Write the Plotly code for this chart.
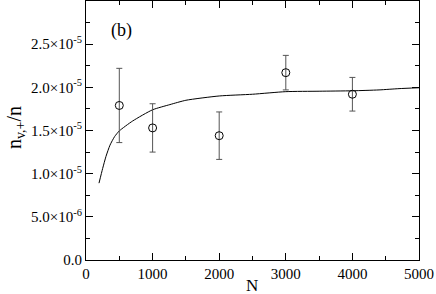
import plotly.graph_objects as go

# Data
pts_N = [500, 1000, 2000, 3000, 4000]
pts_y = [1.79e-5, 1.53e-5, 1.44e-5, 2.17e-5, 1.92e-5]
pts_err = [4.3e-6, 2.8e-6, 2.75e-6, 2.0e-6, 1.95e-6]

curve_N = [195, 250, 300, 360, 430, 500, 700, 1000, 1260, 1500, 2000, 2500,
           3000, 3500, 4000, 4400, 4700, 5000]
curve_y = [8.9e-6, 10.6e-6, 12.0e-6, 13.3e-6, 14.3e-6, 14.95e-6, 16.1e-6, 17.4e-6,
           18.0e-6, 18.5e-6, 19.0e-6, 19.2e-6, 19.5e-6, 19.55e-6, 19.6e-6, 19.7e-6,
           19.85e-6, 19.95e-6]

x_ticks = [0, 1000, 2000, 3000, 4000, 5000]
y_ticks = [0, 5e-6, 1e-5, 1.5e-5, 2e-5, 2.5e-5]
y_ticktext = ["0.0", "5.0×10<sup>-6</sup>", "1.0×10<sup>-5</sup>", "1.5×10<sup>-5</sup>",
              "2.0×10<sup>-5</sup>", "2.5×10<sup>-5</sup>"]

FONT = "Liberation Serif"

fig = go.Figure()
fig.add_trace(go.Scatter(x=curve_N, y=curve_y, mode="lines",
                         line=dict(color="black", width=1, shape="spline", smoothing=0.6),
                         showlegend=False))
fig.add_trace(go.Scatter(x=pts_N, y=pts_y, mode="markers",
                         marker=dict(symbol="circle-open", size=8, color="black",
                                     line=dict(width=1, color="black")),
                         error_y=dict(type="data", array=pts_err, visible=True,
                                      color="#555555", thickness=1, width=3),
                         showlegend=False))

axis_common = dict(showline=True, linecolor="black", linewidth=1, mirror="allticks",
                   ticks="inside", ticklen=7, tickcolor="black", tickwidth=1,
                   showgrid=False, zeroline=False, automargin=False,
                   tickfont=dict(family=FONT, size=15, color="black"))

fig.update_xaxes(range=[0, 5000], tickvals=x_ticks,
                 minor=dict(dtick=500, ticks="inside", ticklen=4, tickcolor="black", showgrid=False),
                 **axis_common)
fig.update_yaxes(range=[0, 3.0e-5], tickvals=y_ticks, ticktext=y_ticktext,
                 minor=dict(dtick=2.5e-6, ticks="inside", ticklen=4, tickcolor="black", showgrid=False),
                 **axis_common)

fig.add_annotation(x=0.108, y=0.888, xref="paper", yref="paper", text="(b)",
                   showarrow=False, xanchor="center", yanchor="middle",
                   font=dict(family=FONT, size=18, color="black"))
fig.add_annotation(x=0.497, y=-0.098, xref="paper", yref="paper", text="N",
                   showarrow=False, xanchor="center", yanchor="middle",
                   font=dict(family=FONT, size=17, color="black"))
fig.add_annotation(x=-0.21, y=0.51, xref="paper", yref="paper",
                   text="n<sub>v,+</sub>/n", textangle=-90,
                   showarrow=False, xanchor="center", yanchor="middle",
                   font=dict(family=FONT, size=20, color="black"))

fig.update_layout(width=436, height=294, plot_bgcolor="white", paper_bgcolor="white",
                  margin=dict(l=86, r=17, t=1, b=34), font=dict(family=FONT))

fig.write_html("out.html", config={"displayModeBar": False})

# remove the default body margin so the figure sits at the window's top-left corner
with open("out.html", encoding="utf-8") as f:
    html = f.read()
html = html.replace("<body>", '<body style="margin:0;padding:0;overflow:hidden">', 1)
with open("out.html", "w", encoding="utf-8") as f:
    f.write(html)
